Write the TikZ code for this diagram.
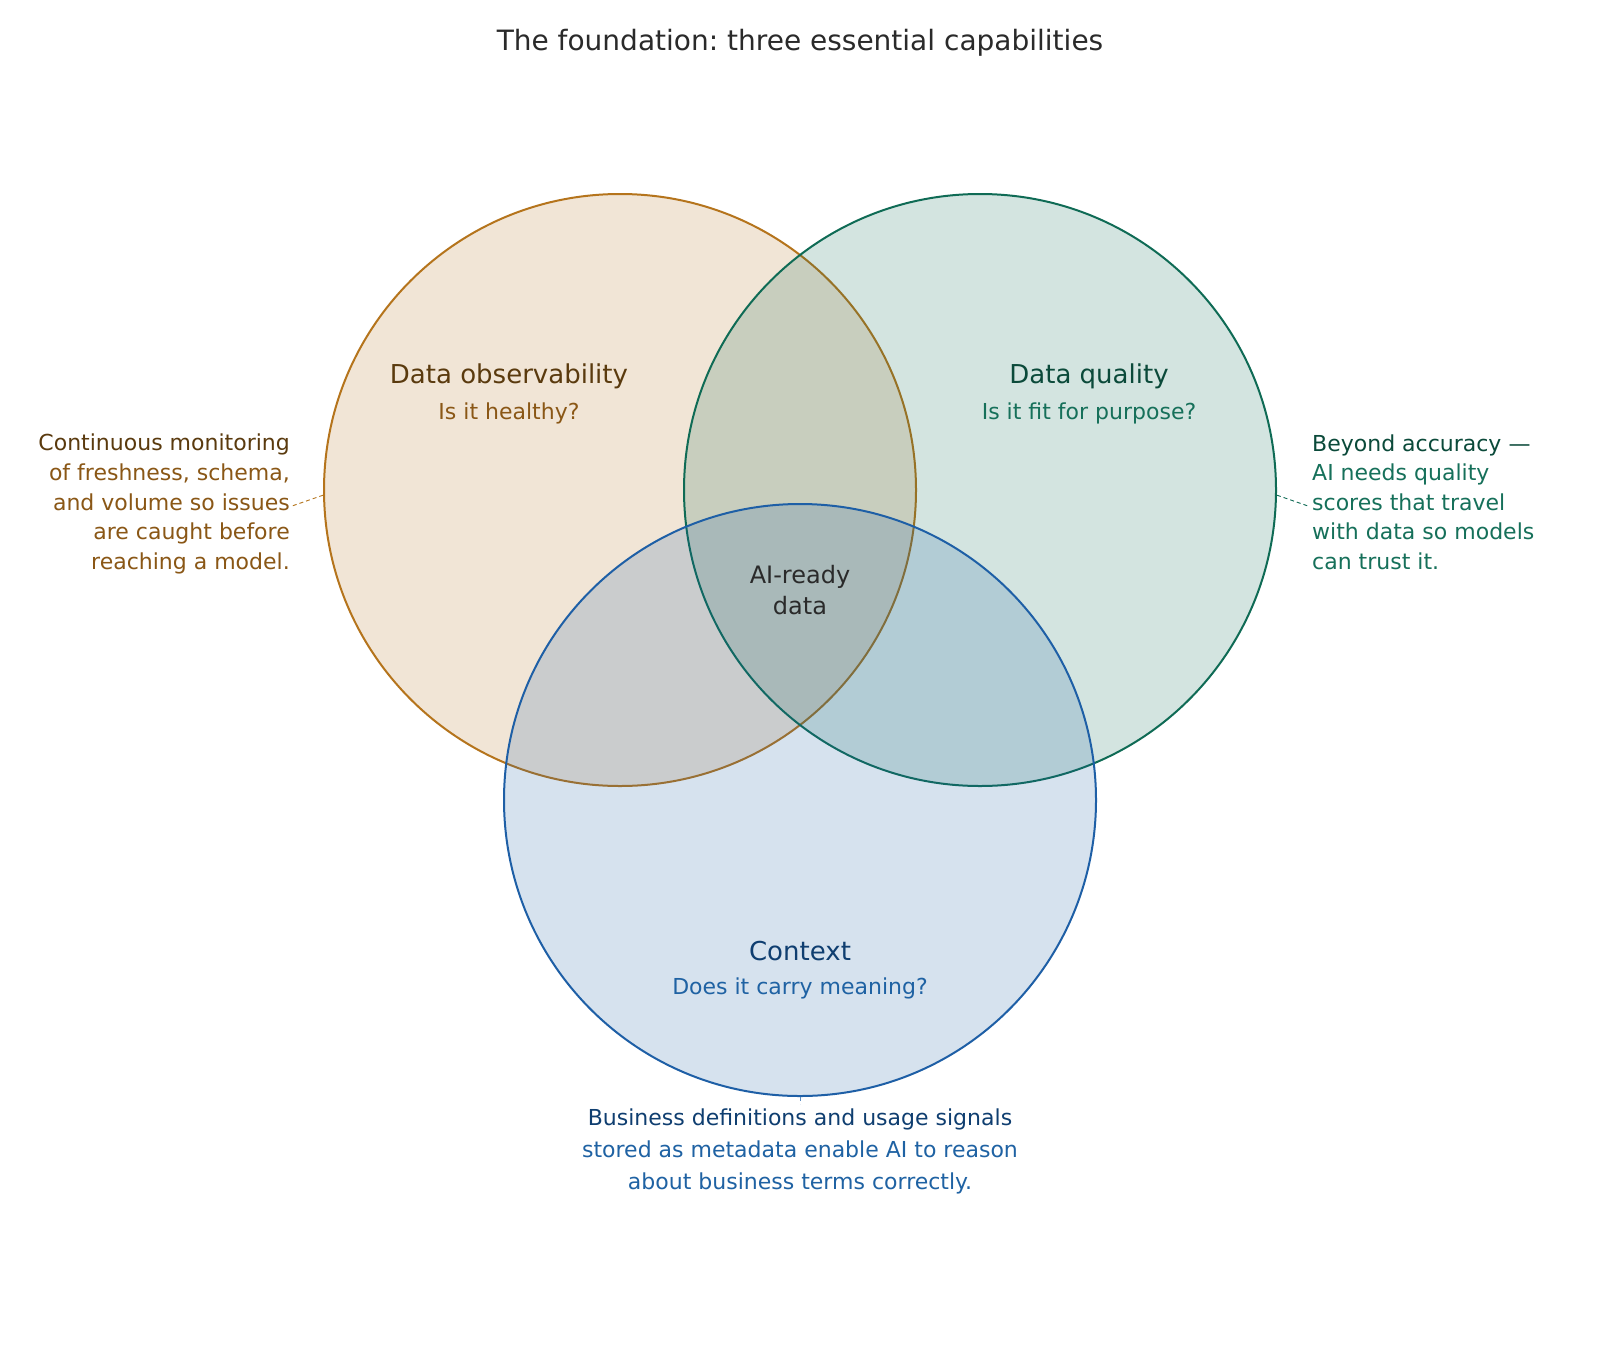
\documentclass[tikz,border=0pt]{standalone}
\usepackage{fontspec}
\setmainfont{DejaVu Sans}
\usetikzlibrary{positioning}
\usepackage{xcolor}
\frenchspacing
\definecolor{obsEdge}{HTML}{B5741C}
\definecolor{obsDark}{HTML}{5A3A0E}
\definecolor{obsMid}{HTML}{8A5716}
\definecolor{qualEdge}{HTML}{0F6B55}
\definecolor{qualDark}{HTML}{0B4A3A}
\definecolor{qualMid}{HTML}{16705A}
\definecolor{ctxEdge}{HTML}{1E5FA6}
\definecolor{ctxDark}{HTML}{0F3E70}
\definecolor{ctxMid}{HTML}{1F62A3}
\definecolor{ink}{HTML}{2A2A2A}
\tikzset{
  capset/.style = {circle, line width=2pt, minimum size=592pt, inner sep=0pt,
                   fill opacity=0.18},
  head/.style   = {font=\fontsize{26}{30}\selectfont, inner sep=0pt},
  ask/.style    = {font=\fontsize{22}{26}\selectfont, inner sep=0pt},
  note/.style   = {font=\fontsize{22}{29.6}\selectfont, inner sep=0pt},
  leader/.style = {line width=0.9pt, dash pattern=on 4pt off 3pt}
}

\begin{document}
\begin{tikzpicture}[x=1pt, y=-1pt]
\fill[white] (0,0) rectangle (1600,1360);

\node[font=\fontsize{28}{32}\selectfont, ink] (title) at (800,43)
  {The foundation: three essential capabilities};

% the three capability circles
\node[capset, draw=obsEdge, fill=obsEdge]   (obs)  at (620,490) {};
\node[capset, draw=qualEdge, fill=qualEdge] (qual) at (980,490) {};
\node[capset, draw=ctxEdge, fill=ctxEdge]   (ctx)  at (800,800) {};

% circle labels
\node[head, obsDark]  (obshead)  at (509,376) {Data observability};
\node[ask, obsMid]    (obsask)   at (509,413) {Is it healthy?};
\node[head, qualDark] (qualhead) at (1089,376) {Data quality};
\node[ask, qualMid]   (qualask)  at (1089,413) {Is it fit for purpose?};
\node[head, ctxDark]  (ctxhead)  at (800,951) {Context};
\node[ask, ctxMid]    (ctxask)   at (800,988) {Does it carry meaning?};

% centre
\node[font=\fontsize{24}{30.6}\selectfont, ink, align=center] (core) at (800,590)
  {AI-ready\\data};

% side notes
\node[note, obsMid, align=right, anchor=east] (obsnote) at (290,504)
  {{\color{obsDark}Continuous monitoring}\\of freshness, schema,\\and volume so issues\\are caught before\\reaching a model.};
\node[note, qualMid, align=left, anchor=west] (qualnote) at (1312,502)
  {{\color{qualDark}Beyond accuracy ---}\\AI needs quality\\scores that travel\\with data so models\\can trust it.};
\node[note, ctxMid, align=center, font=\fontsize{22}{31.6}\selectfont, anchor=north]
  (ctxnote) at (800,1109)
  {{\color{ctxDark}Business definitions and usage signals}\\stored as metadata enable AI to reason\\about business terms correctly.};

% leaders
\draw[leader, obsEdge]  (obs.181)  -- ([shift={(2,2)}]obsnote.east);
\draw[leader, qualEdge] (qual.-1)  -- ([shift={(-4,4)}]qualnote.west);
\draw[leader, ctxEdge!70] (ctx.south) -- ([yshift=5]ctxnote.north);
\end{tikzpicture}
\end{document}
